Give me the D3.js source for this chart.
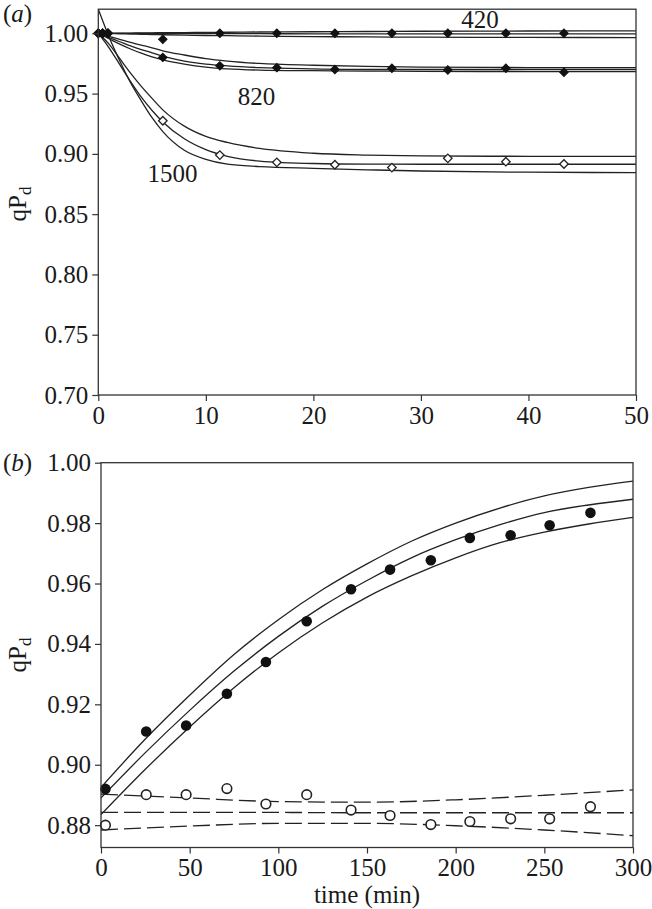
<!DOCTYPE html>
<html><head><meta charset="utf-8">
<script src="https://cdn.jsdelivr.net/npm/d3@7"></script>
<style>
body{margin:0;background:#fff}
svg{display:block}
</style>
</head><body>
<svg id="c" width="652" height="909"></svg>
<script>
// ---------- Panel (a) data ----------
const curveTimesA = [0,1,2,3,4,5,6,8,10,12,15,20,25,30,40,50];
const fit420Upper = [1.0,1.0,1.0001,1.0002,1.0003,1.0004,1.0005,1.0006,1.0008,1.0009,1.0011,1.0013,1.0015,1.0017,1.0019,1.0020];
const fit420Mid   = [1.0,1.0,1.0,0.9999,0.9999,0.9999,0.9998,0.9998,0.9998,0.9997,0.9997,0.9996,0.9996,0.9995,0.9995,0.9995];
const fit420Lower = [1.0,0.9998,0.9996,0.9994,0.9992,0.9990,0.9988,0.9985,0.9982,0.9980,0.9977,0.9973,0.9970,0.9968,0.9966,0.9965];
const fit820Upper = [1.0,0.9975,0.9950,0.9925,0.9902,0.9880,0.9855,0.9820,0.9790,0.9770,0.9750,0.9735,0.9725,0.9720,0.9716,0.9715];
const fit820Mid   = [1.0,0.9965,0.9930,0.9895,0.9865,0.9838,0.9810,0.9770,0.9745,0.9730,0.9715,0.9705,0.9700,0.9700,0.9700,0.9700];
const fit820Lower = [1.0,0.9955,0.9910,0.9870,0.9835,0.9805,0.9780,0.9745,0.9720,0.9705,0.9695,0.9690,0.9687,0.9685,0.9683,0.9683];
const fit1500Upper = [1.0,0.991,0.979,0.967,0.956,0.946,0.9365,0.923,0.9145,0.9095,0.9045,0.9005,0.8990,0.8983,0.8980,0.8980];
const fit1500Mid   = [1.0,0.988,0.974,0.960,0.947,0.936,0.9265,0.9125,0.9035,0.8980,0.8940,0.8920,0.8915,0.8914,0.8914,0.8914];
const fit1500Lower = [1.02,0.997,0.977,0.959,0.944,0.930,0.9185,0.903,0.8955,0.8915,0.8895,0.8880,0.8868,0.8858,0.8848,0.8845];

const pointTimesA = [0,0.4,0.9,6.0,11.3,16.6,22.0,27.3,32.5,37.9,43.3];
const obs420  = [1.0,1.0,1.0,0.995,1.0,1.0,1.0,1.0,1.0,1.0,1.0];
const obs820  = [1.0,1.0,1.0,0.980,0.973,0.9715,0.970,0.971,0.9696,0.971,0.9677];
const obs1500 = [1.0,1.0,1.0,0.9275,0.899,0.893,0.891,0.8886,0.8963,0.8935,0.8916];

const xTicksA = [0,10,20,30,40,50];
const yTicksA = [0.70,0.75,0.80,0.85,0.90,0.95,1.00];
const seriesLabelsA = [
  {text:"420",  t:35.5, v:1.0043},
  {text:"820",  t:14.7, v:0.9405},
  {text:"1500", t:6.9,  v:0.8766}
];

// ---------- Panel (b) data ----------
const curveTimesB = [0,25,50,75,100,125,150,175,200,225,250,275,300];
const solidUpper = [0.8925,0.9085,0.9230,0.9365,0.9480,0.9580,0.9665,0.9740,0.9800,0.9850,0.9890,0.9918,0.9939];
const solidMid   = [0.8890,0.9040,0.9180,0.9310,0.9425,0.9525,0.9610,0.9685,0.9745,0.9795,0.9835,0.9860,0.9879];
const solidLower = [0.8835,0.8985,0.9125,0.9255,0.9370,0.9470,0.9555,0.9625,0.9685,0.9735,0.9770,0.9797,0.9819];
const dashTimesB = [0,50,100,150,200,250,300];
const dashUpper = [0.8903,0.8890,0.8878,0.8876,0.8884,0.8899,0.8917];
const dashMid   = [0.8842,0.8842,0.8842,0.8841,0.8841,0.8841,0.8841];
const dashLower = [0.8784,0.8797,0.8806,0.8806,0.8798,0.8784,0.8765];

const pointTimesB = [2.5,25.5,48,71,93,116,141,163,186,208,231,253,276];
const filledB = [0.892,0.911,0.913,0.9235,0.934,0.9475,0.9581,0.9646,0.9677,0.9751,0.9760,0.9793,0.9834];
const openB   = [0.8800,0.8901,0.8901,0.8921,0.8870,0.8901,0.8850,0.8832,0.8802,0.8812,0.8821,0.8821,0.8861];

const xTicksB = [0,50,100,150,200,250,300];
const yTicksB = [0.88,0.90,0.92,0.94,0.96,0.98,1.00];

// ---------- Drawing ----------
const svg = d3.select("#c");
svg.append("rect").attr("width",652).attr("height",909).attr("fill","#fff");
const INK = "#222";
const FS = 25;
const FONT = "Liberation Serif";

function txt(sel){ return sel.attr("font-family",FONT).attr("fill","#1a1a1a"); }

function styleAxis(g){
  g.attr("font-family",FONT);
  g.select(".domain").remove();
  g.selectAll(".tick line").attr("stroke","#333").attr("stroke-width",1.2);
  g.selectAll(".tick text").attr("font-size",FS).attr("fill","#1a1a1a")
    .attr("font-family",FONT);
}

function frame(x0,x1,y0,y1){
  svg.append("rect").attr("x",x0).attr("y",y0).attr("width",x1-x0).attr("height",y1-y0)
    .attr("fill","none").attr("stroke","#333").attr("stroke-width",1.3);
}

// Panel (a)
const xA = d3.scaleLinear().domain([0,50]).range([98.3,636]);
const yA = d3.scaleLinear().domain([0.70,1.02]).range([395,9.2]);

svg.append("clipPath").attr("id","clipA").append("rect")
  .attr("x",98.3).attr("y",9.2).attr("width",636-98.3).attr("height",395-9.2);

const gA = svg.append("g").attr("clip-path","url(#clipA)");
const lineA = d3.line().x((d,i)=>xA(curveTimesA[i])).y(d=>yA(d)).curve(d3.curveMonotoneX);
[fit420Upper,fit420Mid,fit420Lower,fit820Upper,fit820Mid,fit820Lower,fit1500Upper,fit1500Mid,fit1500Lower]
  .forEach(arr=>{
    gA.append("path").attr("d",lineA(arr)).attr("fill","none")
      .attr("stroke",INK).attr("stroke-width",1.3);
  });

const diamond = d3.symbol(d3.symbolSquare, 36);
svg.append("g").selectAll("path").data(obs1500).join("path")
  .attr("d",diamond)
  .attr("transform",(d,i)=>`translate(${xA(pointTimesA[i])},${yA(d)}) rotate(45)`)
  .attr("fill","#fff").attr("stroke",INK).attr("stroke-width",1.3);
[obs820, obs420].forEach(arr=>{
  svg.append("g").selectAll("path").data(arr).join("path")
    .attr("d",diamond)
    .attr("transform",(d,i)=>`translate(${xA(pointTimesA[i])},${yA(d)}) rotate(45)`)
    .attr("fill","#111").attr("stroke","#111").attr("stroke-width",1);
});

svg.append("g").selectAll("text").data(seriesLabelsA).join("text")
  .attr("x",d=>xA(d.t)).attr("y",d=>yA(d.v)).attr("text-anchor","middle")
  .attr("font-size",FS).text(d=>d.text).call(txt);

frame(98.3,636,9.2,395);
svg.append("g").attr("transform","translate(98.3,0)")
  .call(d3.axisLeft(yA).tickValues(yTicksA).tickFormat(d3.format(".2f")).tickSize(6).tickPadding(4))
  .call(styleAxis);
svg.append("g").attr("transform","translate(0,395)")
  .call(d3.axisBottom(xA).tickValues(xTicksA).tickFormat(d3.format("d")).tickSize(6).tickPadding(5))
  .call(styleAxis);

const la = svg.append("text").attr("x",3).attr("y",22).attr("font-size",FS).call(txt);
la.append("tspan").text("(");
la.append("tspan").attr("font-style","italic").text("a");
la.append("tspan").text(")");

function yLabel(cx,cy){
  const t = svg.append("text").attr("transform",`translate(${cx},${cy}) rotate(-90)`)
    .attr("text-anchor","middle").attr("font-size",FS).call(txt);
  t.append("tspan").text("qP");
  t.append("tspan").attr("font-size",17).attr("dy",5).text("d");
}
yLabel(26,204);

// Panel (b)
const xB = d3.scaleLinear().domain([0,300]).range([101,633]);
const yB = d3.scaleLinear().domain([0.8726,1.0]).range([847.5,462.7]);

svg.append("clipPath").attr("id","clipB").append("rect")
  .attr("x",101).attr("y",462.7).attr("width",633-101).attr("height",847.5-462.7);
const gB = svg.append("g").attr("clip-path","url(#clipB)");

const lineB = d3.line().x((d,i)=>xB(curveTimesB[i])).y(d=>yB(d)).curve(d3.curveMonotoneX);
[solidUpper,solidMid,solidLower].forEach(arr=>{
  gB.append("path").attr("d",lineB(arr)).attr("fill","none")
    .attr("stroke",INK).attr("stroke-width",1.3);
});
const lineBd = d3.line().x((d,i)=>xB(dashTimesB[i])).y(d=>yB(d)).curve(d3.curveMonotoneX);
[dashUpper,dashMid,dashLower].forEach(arr=>{
  gB.append("path").attr("d",lineBd(arr)).attr("fill","none")
    .attr("stroke",INK).attr("stroke-width",1.3).attr("stroke-dasharray","17,6");
});

svg.append("g").selectAll("circle").data(openB).join("circle")
  .attr("cx",(d,i)=>xB(pointTimesB[i])).attr("cy",d=>yB(d)).attr("r",4.8)
  .attr("fill","#fff").attr("stroke",INK).attr("stroke-width",1.6);
svg.append("g").selectAll("circle").data(filledB).join("circle")
  .attr("cx",(d,i)=>xB(pointTimesB[i])).attr("cy",d=>yB(d)).attr("r",5.3)
  .attr("fill","#111");

frame(101,633,462.7,847.5);
svg.append("g").attr("transform","translate(101,0)")
  .call(d3.axisLeft(yB).tickValues(yTicksB).tickFormat(d3.format(".2f")).tickSize(6).tickPadding(4))
  .call(styleAxis);
svg.append("g").attr("transform","translate(0,847.5)")
  .call(d3.axisBottom(xB).tickValues(xTicksB).tickFormat(d3.format("d")).tickSize(6).tickPadding(5))
  .call(styleAxis);

const lb = svg.append("text").attr("x",3).attr("y",471).attr("font-size",FS).call(txt);
lb.append("tspan").text("(");
lb.append("tspan").attr("font-style","italic").text("b");
lb.append("tspan").text(")");
yLabel(26,655);

svg.append("text").attr("x",367).attr("y",903).attr("text-anchor","middle")
  .attr("font-size",FS).text("time (min)").call(txt);
</script>
</body></html>
